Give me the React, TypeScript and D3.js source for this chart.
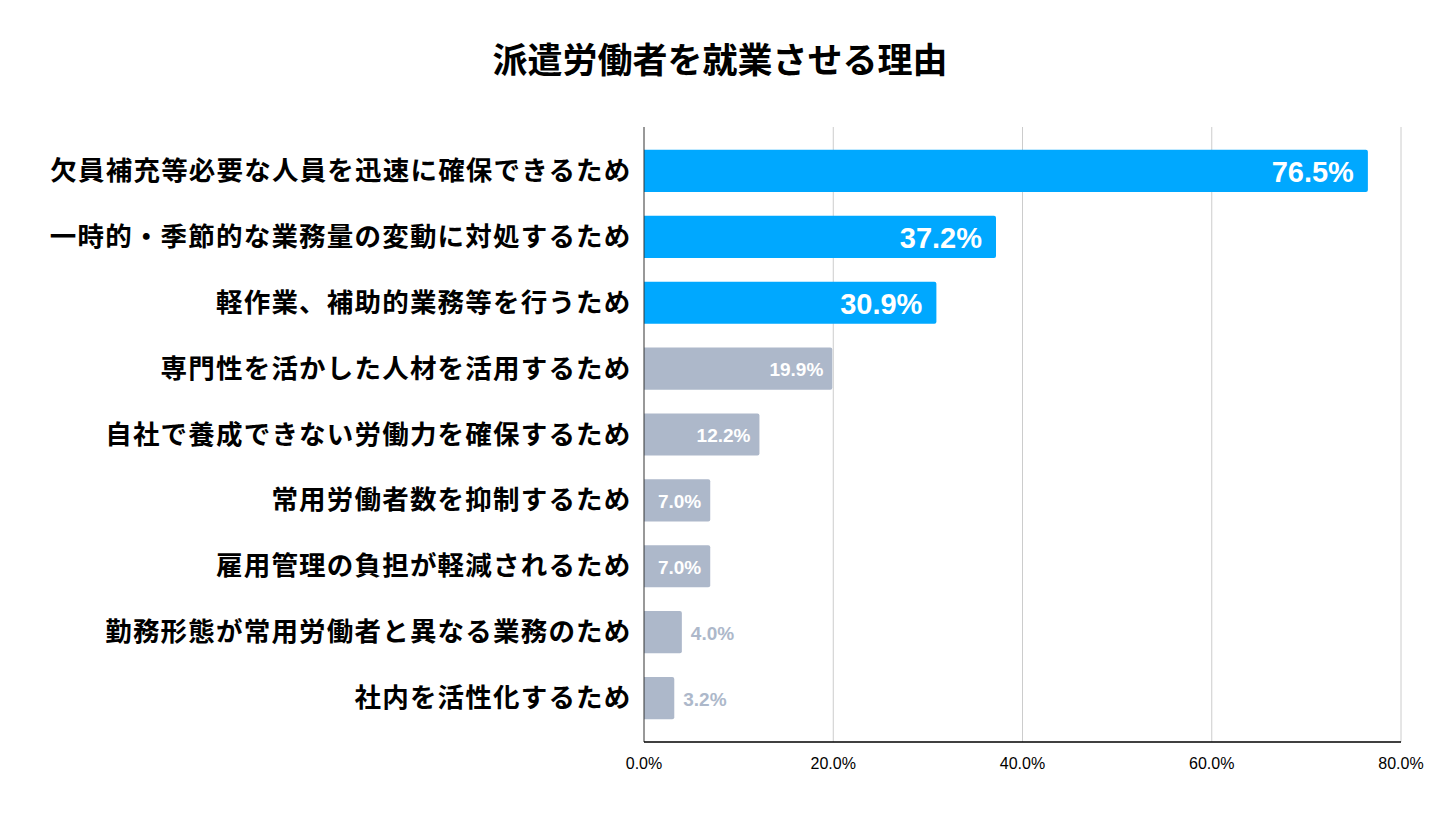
import React from "react";
import * as d3 from "d3";

const categories = [
  "欠員補充等必要な人員を迅速に確保できるため",
  "一時的・季節的な業務量の変動に対処するため",
  "軽作業、補助的業務等を行うため",
  "専門性を活かした人材を活用するため",
  "自社で養成できない労働力を確保するため",
  "常用労働者数を抑制するため",
  "雇用管理の負担が軽減されるため",
  "勤務形態が常用労働者と異なる業務のため",
  "社内を活性化するため",
];
const values = [76.5, 37.2, 30.9, 19.9, 12.2, 7.0, 7.0, 4.0, 3.2];
const highlighted = [true, true, true, false, false, false, false, false, false];
const ticks = [0, 20, 40, 60, 80];
const title = "派遣労働者を就業させる理由";

const W = 1441;
const H = 819;
const FONT = "'Liberation Sans', 'Noto Sans CJK JP', Arial, sans-serif";
const BLUE = "#00a8ff";
const GRAY = "#adb8ca";

export default function App() {
  const x = d3.scaleLinear().domain([0, 80]).range([644, 1401]);
  const y = d3
    .scaleBand<string>()
    .domain(categories)
    .range([138, 731])
    .paddingInner(0.36)
    .paddingOuter(0.18);
  const plotTop = 127;
  const plotBottom = 742;

  return (
    <svg
      width={W}
      height={H}
      style={{ position: "absolute", left: 0, top: 0, background: "#fff" }}
      fontFamily={FONT}
    >
      <text
        x={720}
        y={73}
        textAnchor="middle"
        fontSize={35}
        fontWeight="bold"
        fill="#000"
      >
        {title}
      </text>
      {ticks.slice(1).map((t) => (
        <line
          key={"g" + t}
          x1={x(t)}
          x2={x(t)}
          y1={plotTop}
          y2={plotBottom}
          stroke="#cccccc"
          strokeWidth={1}
        />
      ))}
      {categories.map((c, i) => {
        const v = values[i];
        const y0 = y(c)!;
        const bh = y.bandwidth();
        const hi = highlighted[i];
        const big = hi;
        const inside = v >= 5;
        const cy = y0 + bh / 2;
        return (
          <g key={c}>
            <path
              d={`M${x(0)},${y0} H${x(v) - 2} Q${x(v)},${y0} ${x(v)},${y0 + 2} V${y0 + bh - 2} Q${x(v)},${y0 + bh} ${x(v) - 2},${y0 + bh} H${x(0)} Z`}
              fill={hi ? BLUE : GRAY}
            />
            <text
              x={631.5}
              y={cy}
              textAnchor="end"
              dominantBaseline="central"
              fontSize={26.5}
              letterSpacing={1.2}
              fontWeight="bold"
              fill="#000"
            >
              {c}
            </text>
            <text
              x={inside ? x(v) - (big ? 14 : 9) : x(v) + 9}
              y={cy + 1}
              textAnchor={inside ? "end" : "start"}
              dominantBaseline="central"
              fontSize={big ? 29 : 19}
              fontWeight="bold"
              fill={inside ? "#fff" : GRAY}
            >
              {v.toFixed(1) + "%"}
            </text>
          </g>
        );
      })}
      <line x1={x(0)} x2={x(0)} y1={plotTop} y2={plotBottom} stroke="#333" strokeWidth={1} />
      <line x1={x(0)} x2={x(80)} y1={plotBottom} y2={plotBottom} stroke="#000" strokeWidth={1.5} />
      {ticks.map((t) => (
        <text
          key={"t" + t}
          x={x(t)}
          y={769}
          textAnchor="middle"
          fontSize={16}
          fill="#000"
        >
          {t.toFixed(1) + "%"}
        </text>
      ))}
    </svg>
  );
}
